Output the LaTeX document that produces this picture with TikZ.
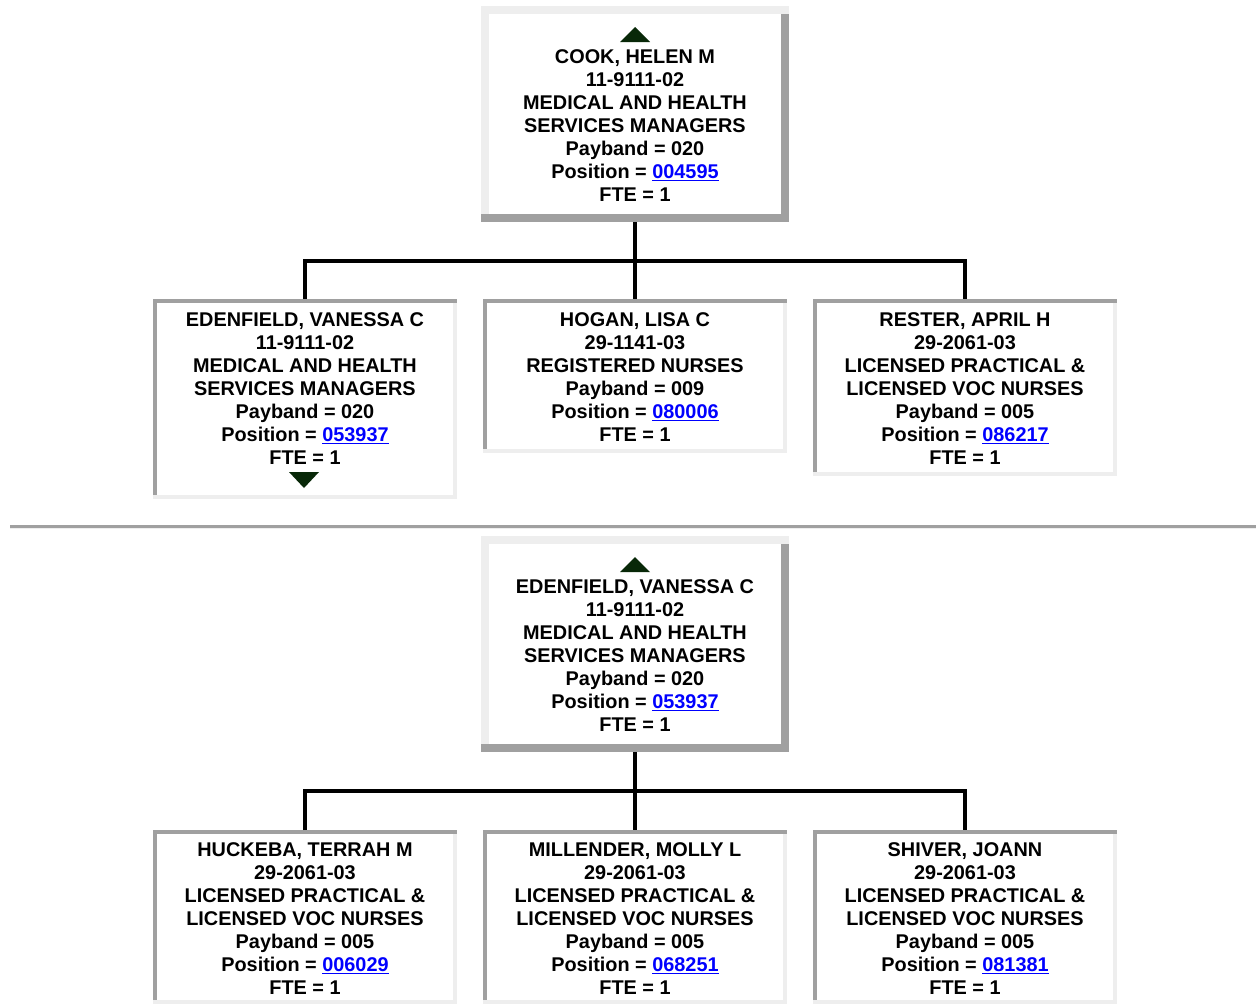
\documentclass[tikz,border=0pt]{standalone}
\usepackage{fontspec}
\setmainfont{Liberation Sans}
\definecolor{dgr}{HTML}{A0A0A0}
\definecolor{lgr}{HTML}{EEEEEE}
\definecolor{trig}{RGB}{8,40,8}
\definecolor{linkblue}{HTML}{0000FF}
\newcommand{\lnk}[1]{\textcolor{linkblue}{\underline{#1}}}
\newcommand{\mgrbox}[5]{%
  \fill[lgr] (#2,#3) rectangle (#4,#5);
  \fill[dgr] ({#4-8},{#3+8}) rectangle (#4,#5);
  \fill[dgr] (#2,{#5-8}) rectangle (#4,#5);
  \fill[white] ({#2+8},{#3+8}) rectangle ({#4-8},{#5-8});
  \node[boxn, minimum width={(#4-#2)*0.75pt}, minimum height={(#5-#3)*0.75pt}] (#1) at ({(#2+#4)/2},{(#3+#5)/2}) {};
}
\newcommand{\subbox}[5]{%
  \fill[lgr] (#2,#3) rectangle (#4,#5);
  \fill[dgr] (#2,#3) rectangle (#4,{#3+4});
  \fill[dgr] (#2,#3) rectangle ({#2+4},{#5-4});
  \fill[white] ({#2+4},{#3+4}) rectangle ({#4-4},{#5-4});
  \node[boxn, minimum width={(#4-#2)*0.75pt}, minimum height={(#5-#3)*0.75pt}] (#1) at ({(#2+#4)/2},{(#3+#5)/2}) {};
}
\begin{document}
\begin{tikzpicture}[x=0.75pt,y=-0.75pt,
  boxn/.style={inner sep=0pt, outer sep=0pt, draw=none},
  txt/.style={align=center, inner sep=0pt, anchor=base, font=\bfseries\fontsize{14.9}{17.25}\selectfont},
  conn/.style={draw=black, line width=3pt},
  tri/.style={fill=trig}]
\useasboundingbox (0,0) rectangle (1256,1004);
\fill[white] (0,0) rectangle (1256,1004);

% ---------- chart 1 ----------
\mgrbox{m1}{481}{6}{789}{222}
\subbox{c1}{153}{299}{457}{499}
\subbox{c2}{483}{299}{787}{453}
\subbox{c3}{813}{299}{1117}{476}

\fill[tri] (620,42) -- (635,27) -- (650,42) -- cycle;
\fill[tri] (289,472) -- (319,472) -- (304,488) -- cycle;

% anchor=base = baseline of the last line
\node[txt] (t1) at (635,201) {COOK, HELEN M\\11-9111-02\\MEDICAL AND HEALTH\\SERVICES MANAGERS\\Payband = 020\\Position = \lnk{004595}\\FTE = 1};
\node[txt] (t2) at (305,464) {EDENFIELD, VANESSA C\\11-9111-02\\MEDICAL AND HEALTH\\SERVICES MANAGERS\\Payband = 020\\Position = \lnk{053937}\\FTE = 1};
\node[txt] (t3) at (635,441) {HOGAN, LISA C\\29-1141-03\\REGISTERED NURSES\\Payband = 009\\Position = \lnk{080006}\\FTE = 1};
\node[txt] (t4) at (965,464) {RESTER, APRIL H\\29-2061-03\\LICENSED PRACTICAL \&\\LICENSED VOC NURSES\\Payband = 005\\Position = \lnk{086217}\\FTE = 1};

\draw[conn] (m1.south) -- (c2.north);
\draw[conn] (c1.north) -- ++(0,-38.5) -| (c3.north);

% ---------- separator ----------
\fill[dgr] (10,525) rectangle (1256,528);
\fill[lgr] (10,528) rectangle (1256,529);

% ---------- chart 2 ----------
\mgrbox{m2}{481}{536}{789}{752}
\subbox{d1}{153}{830}{457}{1004}
\subbox{d2}{483}{830}{787}{1004}
\subbox{d3}{813}{830}{1117}{1004}

\fill[tri] (620,572) -- (635,557) -- (650,572) -- cycle;

\node[txt] (t5) at (635,731) {EDENFIELD, VANESSA C\\11-9111-02\\MEDICAL AND HEALTH\\SERVICES MANAGERS\\Payband = 020\\Position = \lnk{053937}\\FTE = 1};
\node[txt] (t6) at (305,994) {HUCKEBA, TERRAH M\\29-2061-03\\LICENSED PRACTICAL \&\\LICENSED VOC NURSES\\Payband = 005\\Position = \lnk{006029}\\FTE = 1};
\node[txt] (t7) at (635,994) {MILLENDER, MOLLY L\\29-2061-03\\LICENSED PRACTICAL \&\\LICENSED VOC NURSES\\Payband = 005\\Position = \lnk{068251}\\FTE = 1};
\node[txt] (t8) at (965,994) {SHIVER, JOANN\\29-2061-03\\LICENSED PRACTICAL \&\\LICENSED VOC NURSES\\Payband = 005\\Position = \lnk{081381}\\FTE = 1};

\draw[conn] (m2.south) -- (d2.north);
\draw[conn] (d1.north) -- ++(0,-38.7) -| (d3.north);
\end{tikzpicture}
\end{document}
